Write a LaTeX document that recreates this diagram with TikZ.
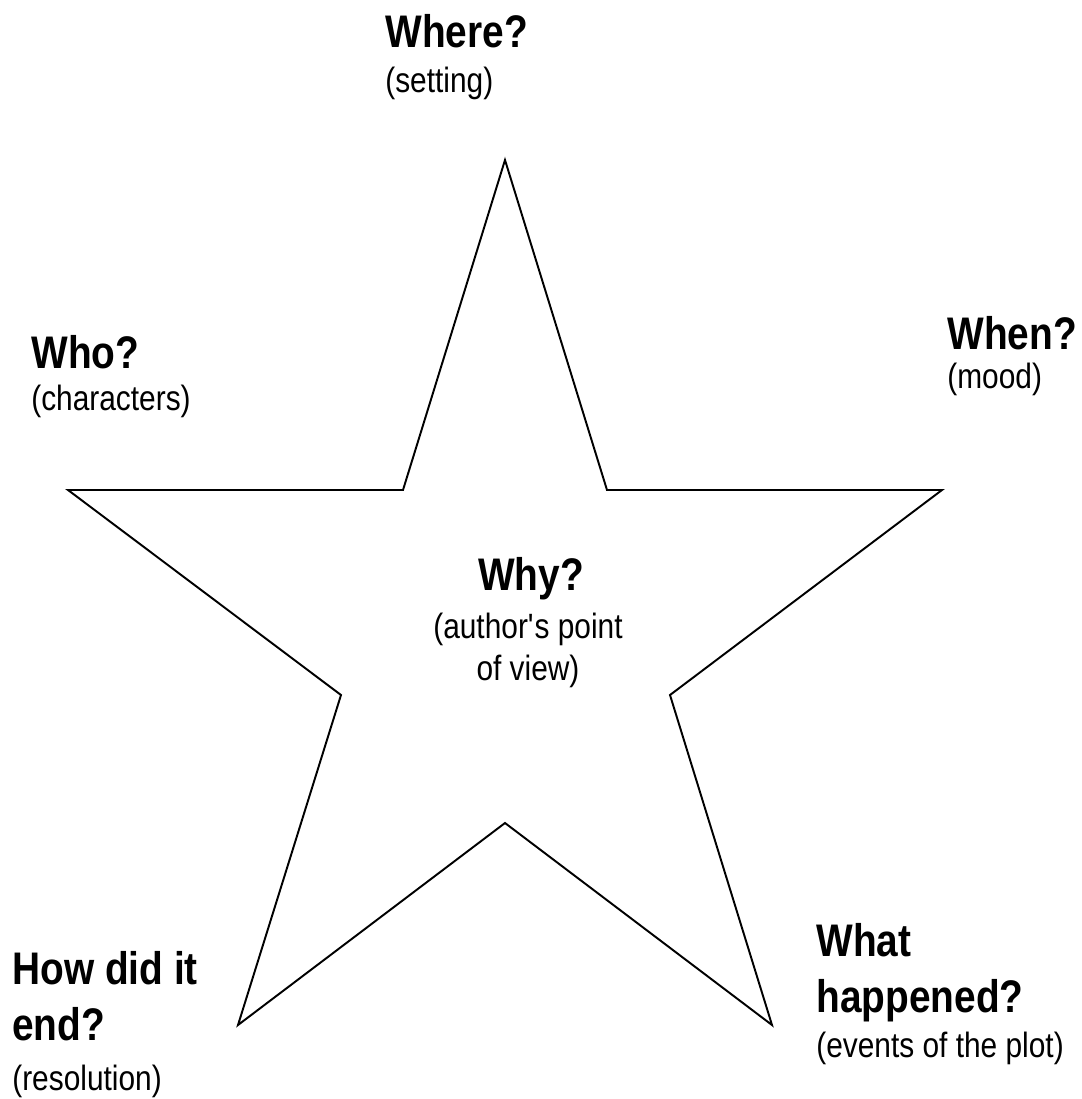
\documentclass[tikz,border=0pt]{standalone}
\usepackage{fontspec}
\setmainfont{Liberation Sans}[FakeStretch=0.85]
\usetikzlibrary{positioning}
\tikzset{
  question/.style={font=\fontsize{26}{31.8}\selectfont\bfseries,inner sep=0pt,align=left},
  hint/.style={font=\fontsize{20}{23.8}\selectfont,inner sep=0pt,align=left},
}

\begin{document}
\begin{tikzpicture}[x=0.02cm,y=-0.02cm]
  \useasboundingbox (0,0) rectangle (1082,1099);
  % star outline
  \draw[line width=1.1pt,line join=miter] (505,160) -- (607,490) -- (942,490) -- (670,695) -- (772,1025)
    -- (505,823) -- (238,1025) -- (341,695) -- (68,490) -- (403,490) -- cycle;
  % points of the star (base = last line)
  \node[question,anchor=base west] (where) at (385,47) {Where?};
  \node[hint,anchor=base west] (setting) at (385,92) {(setting)};
  \node[question,anchor=base west] (who) at (31,368) {Who?};
  \node[hint,anchor=base west] (characters) at (31,410) {(characters)};
  \node[question,anchor=base west] (when) at (947,349) {When?};
  \node[hint,anchor=base west] (mood) at (947,388) {(mood)};
  \node[question,anchor=base west] (how) at (12,1040) {How did it\\end?};
  \node[hint,anchor=base west] (resolution) at (12,1090) {(resolution)};
  \node[question,anchor=base west] (what) at (816,1012) {What\\happened?};
  \node[hint,anchor=base west] (events) at (816,1057) {(events of the plot)};
  % centre
  \node[question,anchor=base] (why) at (531,590) {Why?};
  \node[hint,align=center,anchor=base] (view) at (528,680) {(author\textquotesingle s point\\of view)};
\end{tikzpicture}
\end{document}
